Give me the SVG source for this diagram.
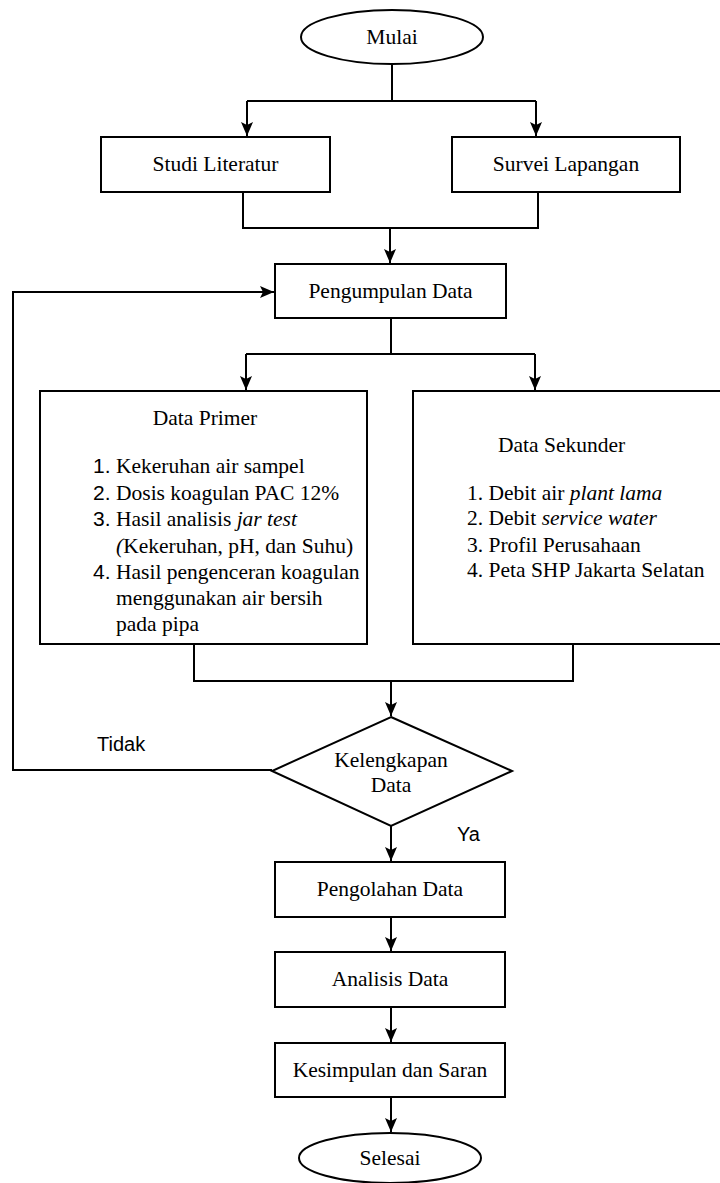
<svg xmlns="http://www.w3.org/2000/svg" width="720" height="1183" viewBox="0 0 720 1183">
<style>
.s{fill:#fff;stroke:#000;stroke-width:2}
.t{font-family:'Liberation Serif','DejaVu Serif',serif;font-size:21.5px;fill:#000}
.c{text-anchor:middle}
.a{font-family:'Liberation Sans',Arial,sans-serif;font-size:20px;fill:#000}
.n{font-family:'Liberation Sans',Arial,sans-serif;font-size:21px}
.l{fill:none;stroke:#000;stroke-width:2}
.i{font-style:italic}
</style>
<defs>
<marker id="ah" markerUnits="userSpaceOnUse" markerWidth="14" markerHeight="12" refX="14" refY="6" orient="auto">
<path d="M0,0 L14,6 L0,12 L3,6 z" fill="#000"/>
</marker>
</defs>
<rect width="720" height="1183" fill="#fff"/>
<g id="connectors">
<path class="l" d="M392,64 V101"/>
<path class="l" d="M247,101 H536"/>
<path class="l" d="M247,101 V136" marker-end="url(#ah)"/>
<path class="l" d="M536,101 V136" marker-end="url(#ah)"/>
<path class="l" d="M243,192 V228 H538 V192"/>
<path class="l" d="M390,228 V263" marker-end="url(#ah)"/>
<path class="l" d="M391,318 V354"/>
<path class="l" d="M246,354 H535"/>
<path class="l" d="M246,354 V390" marker-end="url(#ah)"/>
<path class="l" d="M535,354 V390" marker-end="url(#ah)"/>
<path class="l" d="M194,644 V681 H573 V644"/>
<path class="l" d="M391,681 V716" marker-end="url(#ah)"/>
<path class="l" d="M272,770 H13 V292 H274" marker-end="url(#ah)"/>
<path class="l" d="M391,826 V861" marker-end="url(#ah)"/>
<path class="l" d="M391,917 V951" marker-end="url(#ah)"/>
<path class="l" d="M391,1007 V1042" marker-end="url(#ah)"/>
<path class="l" d="M391,1097 V1132" marker-end="url(#ah)"/>
</g>
<g id="mulai">
<ellipse class="s" cx="392" cy="37" rx="91" ry="27"/>
<text class="t c" x="392" y="44">Mulai</text>
</g>
<g id="studi">
<rect class="s" x="101" y="137" width="229" height="55"/>
<text class="t c" x="215.5" y="171">Studi Literatur</text>
</g>
<g id="survei">
<rect class="s" x="452" y="137" width="228" height="55"/>
<text class="t c" x="566" y="171">Survei Lapangan</text>
</g>
<g id="pengumpulan">
<rect class="s" x="275" y="264" width="231" height="54"/>
<text class="t c" x="390.5" y="298">Pengumpulan Data</text>
</g>
<g id="primer">
<rect class="s" x="40" y="391" width="327" height="253"/>
<text class="t c" x="205" y="425">Data Primer</text>
<text class="t" x="93" y="473"><tspan class="n">1.</tspan><tspan x="116">Kekeruhan air sampel</tspan></text>
<text class="t" x="93" y="500"><tspan class="n">2.</tspan><tspan x="116">Dosis koagulan PAC 12%</tspan></text>
<text class="t" x="93" y="526"><tspan class="n">3.</tspan><tspan x="116">Hasil analisis </tspan><tspan class="i">jar test</tspan></text>
<text class="t" x="116" y="553"><tspan class="i">(</tspan>Kekeruhan, pH, dan Suhu)</text>
<text class="t" x="93" y="579"><tspan class="n">4.</tspan><tspan x="116">Hasil pengenceran koagulan</tspan></text>
<text class="t" x="116" y="605">menggunakan air bersih</text>
<text class="t" x="116" y="631">pada pipa</text>
</g>
<g id="sekunder">
<rect class="s" x="413" y="391" width="309" height="253"/>
<text class="t" x="498" y="452">Data Sekunder</text>
<text class="t" x="467" y="500">1. Debit air <tspan class="i">plant lama</tspan></text>
<text class="t" x="467" y="525">2. Debit <tspan class="i">service water</tspan></text>
<text class="t" x="467" y="552">3. Profil Perusahaan</text>
<text class="t" x="467" y="577">4. Peta SHP Jakarta Selatan</text>
</g>
<g id="kelengkapan">
<polygon class="s" points="391,717 512,771 391,826 272,771"/>
<text class="t c" x="391" y="767">Kelengkapan</text>
<text class="t c" x="391" y="792">Data</text>
</g>
<g id="labels">
<text class="a" x="97" y="751">Tidak</text>
<text class="a" x="457" y="841">Ya</text>
</g>
<g id="pengolahan">
<rect class="s" x="275" y="862" width="230" height="55"/>
<text class="t c" x="390" y="896">Pengolahan Data</text>
</g>
<g id="analisis">
<rect class="s" x="275" y="952" width="230" height="55"/>
<text class="t c" x="390" y="986">Analisis Data</text>
</g>
<g id="kesimpulan">
<rect class="s" x="275" y="1043" width="230" height="54"/>
<text class="t c" x="390" y="1077">Kesimpulan dan Saran</text>
</g>
<g id="selesai">
<ellipse class="s" cx="390" cy="1158" rx="91" ry="25"/>
<text class="t c" x="390" y="1165">Selesai</text>
</g>
</svg>
